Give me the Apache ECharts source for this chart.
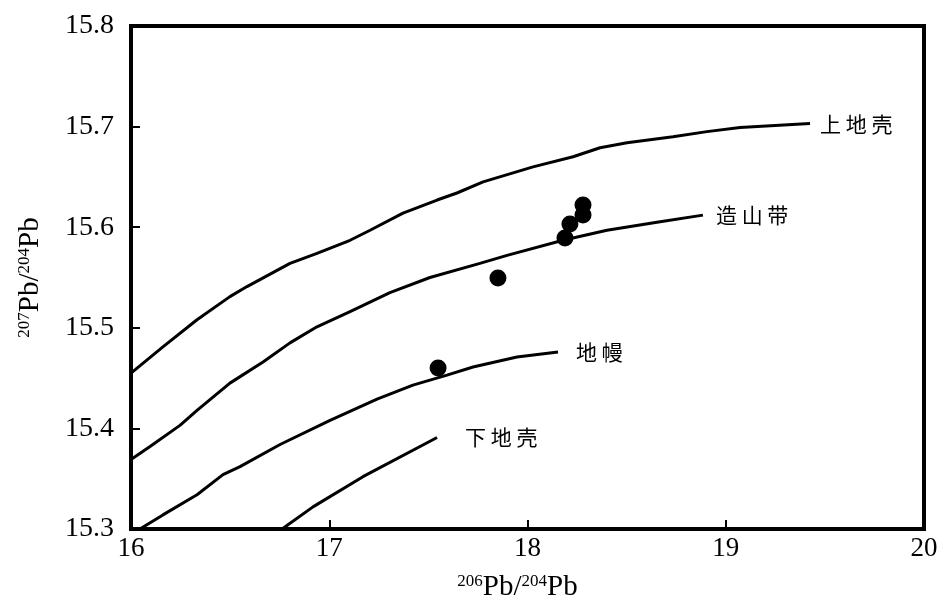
<!doctype html>
<html lang="zh">
<head>
<meta charset="UTF-8">
<title>207Pb/204Pb - 206Pb/204Pb</title>
<script src="https://cdn.jsdelivr.net/npm/echarts@6/dist/echarts.min.js"></script>
<style>
  html, body { margin: 0; padding: 0; background: #fff; }
  #main { width: 947px; height: 608px; }
</style>
</head>
<body>
<div id="main"></div>
<script type="text/javascript">
// 上地壳 curve
var upperX = [16.0, 16.161, 16.333, 16.499, 16.585, 16.802, 16.938, 17.105, 17.206, 17.372, 17.544, 17.644, 17.776, 18.028, 18.23, 18.366, 18.502, 18.734, 18.905, 19.072, 19.425];
var upperY = [15.455, 15.481, 15.508, 15.531, 15.541, 15.564, 15.574, 15.587, 15.597, 15.614, 15.627, 15.634, 15.645, 15.66, 15.67, 15.679, 15.684, 15.69, 15.695, 15.699, 15.703];
// 造山带 curve
var orogenX = [16.0, 16.096, 16.247, 16.333, 16.499, 16.666, 16.802, 16.938, 17.105, 17.306, 17.508, 17.76, 17.897, 18.179, 18.401, 18.653, 18.885];
var orogenY = [15.369, 15.382, 15.403, 15.418, 15.445, 15.466, 15.485, 15.501, 15.516, 15.535, 15.55, 15.564, 15.572, 15.587, 15.597, 15.605, 15.612];
// 地幔 curve
var mantleX = [16.045, 16.161, 16.333, 16.464, 16.55, 16.752, 17.004, 17.241, 17.422, 17.594, 17.725, 17.947, 18.154];
var mantleY = [15.3, 15.314, 15.334, 15.354, 15.362, 15.384, 15.408, 15.429, 15.443, 15.453, 15.461, 15.471, 15.476];
// 下地壳 curve
var lowerX = [16.762, 16.918, 17.17, 17.544];
var lowerY = [15.3, 15.322, 15.352, 15.391];
// samples
var sampleX = [17.549, 17.851, 18.189, 18.214, 18.28, 18.28];
var sampleY = [15.46, 15.5495, 15.5893, 15.6032, 15.6121, 15.6221];

var xTicks = [16, 17, 18, 19, 20];
var yTicks = [15.3, 15.4, 15.5, 15.6, 15.7, 15.8];

function pairs(xs, ys) {
    var out = [];
    for (var i = 0; i < xs.length; i++) {
        out.push([xs[i], ys[i]]);
    }
    return out;
}

var serif = 'Liberation Serif';
var cjk = 'Noto Sans CJK SC';

function curve(name, xs, ys, dist) {
    return {
        name: name,
        type: 'line',
        data: pairs(xs, ys),
        showSymbol: false,
        smooth: false,
        lineStyle: { color: '#000', width: 3 },
        endLabel: {
            show: true,
            formatter: name.split('').join(' '),
            color: '#000',
            fontFamily: cjk,
            fontSize: 21,
            distance: dist
        },
        silent: true
    };
}

var myChart = echarts.init(document.getElementById('main'));

var nameRich = {
    sup: { fontFamily: serif, fontSize: 17, color: '#000', padding: [0, 0, 12, 0] },
    m: { fontFamily: serif, fontSize: 29, color: '#000' }
};

var option = {
    animation: false,
    backgroundColor: '#fff',
    grid: {
        left: 131, right: 23, top: 26, bottom: 79,
        show: true, borderColor: '#000', borderWidth: 4
    },
    xAxis: {
        type: 'value',
        min: xTicks[0], max: xTicks[xTicks.length - 1], interval: 1,
        name: '{sup|206}{m|Pb/}{sup|204}{m|Pb}',
        nameLocation: 'middle',
        nameGap: 44,
        nameTextStyle: { rich: nameRich, padding: [0, 20, 0, 0] },
        axisLine: { lineStyle: { color: '#000', width: 4 } },
        axisTick: { inside: true, length: 9, lineStyle: { color: '#000', width: 2 } },
        axisLabel: { color: '#000', fontFamily: serif, fontSize: 27, margin: 6 },
        splitLine: { show: false }
    },
    yAxis: {
        type: 'value',
        min: yTicks[0], max: yTicks[yTicks.length - 1], interval: 0.1,
        name: '{sup|207}{m|Pb/}{sup|204}{m|Pb}',
        nameLocation: 'middle',
        nameRotate: 90,
        nameGap: 86,
        nameTextStyle: { rich: nameRich },
        axisLine: { lineStyle: { color: '#000', width: 4 } },
        axisTick: { inside: true, length: 9, lineStyle: { color: '#000', width: 2 } },
        axisLabel: {
            color: '#000', fontFamily: serif, fontSize: 28, margin: 17,
            formatter: function (v) { return v.toFixed(1); }
        },
        splitLine: { show: false }
    },
    series: [
        curve('上地壳', upperX, upperY, 10),
        curve('造山带', orogenX, orogenY, 13),
        curve('地幔', mantleX, mantleY, 18),
        curve('下地壳', lowerX, lowerY, 28),
        {
            name: 'samples',
            type: 'scatter',
            data: pairs(sampleX, sampleY),
            symbol: 'circle',
            symbolSize: 17,
            itemStyle: { color: '#000', opacity: 1 },
            z: 5
        }
    ]
};

myChart.setOption(option);
</script>
</body>
</html>
